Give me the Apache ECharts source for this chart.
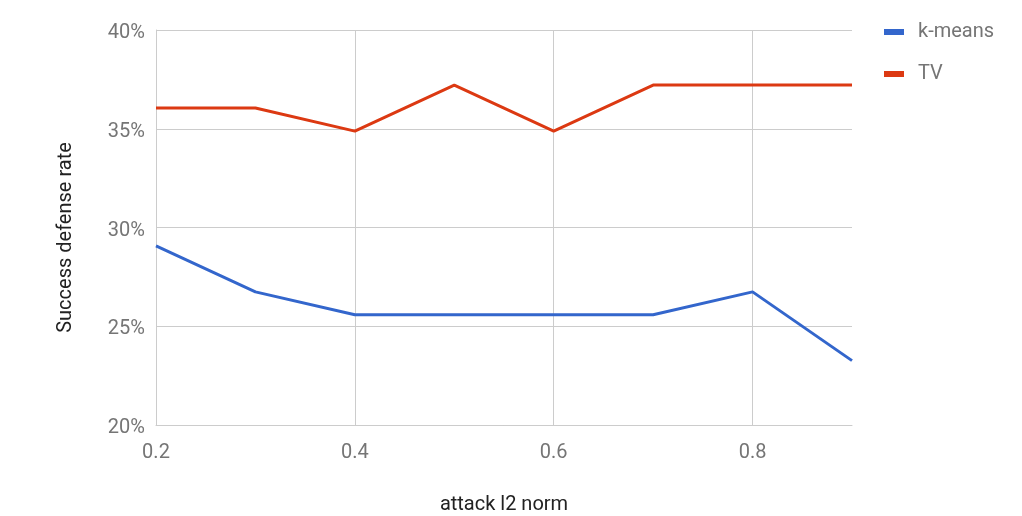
<!DOCTYPE html>
<html>
<head>
<meta charset="utf-8">
<script src="https://cdn.jsdelivr.net/npm/echarts@6/dist/echarts.min.js"></script>
<style>html,body{margin:0;padding:0;background:#fff}#c{width:1022px;height:516px}</style>
</head>
<body>
<div id="c"></div>
<script>
const categories = ['0.2','0.3','0.4','0.5','0.6','0.7','0.8','0.9'];
const kmeans = [29.07, 26.74, 25.58, 25.58, 25.58, 25.58, 26.74, 23.26];
const tv = [36.05, 36.05, 34.88, 37.21, 34.88, 37.21, 37.21, 37.21];
const seriesNames = ['k-means', 'TV'];
const xName = 'attack l2 norm';
const yName = 'Success defense rate';

const chart = echarts.init(document.getElementById('c'));
const font = 'Roboto';
chart.setOption({
  animation: false,
  textStyle: {fontFamily: font},
  color: ['#3366CC', '#DC3912'],
  legend: {
    orient: 'vertical', left: 884, top: 22, padding: 0,
    itemWidth: 20, itemHeight: 6, itemGap: 22,
    icon: 'rect',
    textStyle: {color: '#757575', fontSize: 20, fontFamily: font, padding: [0, 0, 0, 9]},
    data: seriesNames
  },
  grid: {left: 156, right: 170, top: 30, bottom: 91, containLabel: false, outerBoundsMode: 'none'},
  xAxis: {
    type: 'category', data: categories, boundaryGap: false,
    name: xName, nameLocation: 'middle', nameGap: 70,
    nameTextStyle: {color: '#222', fontSize: 20, fontFamily: font},
    axisLine: {show: true, lineStyle: {color: '#ccc'}},
    axisTick: {show: false},
    axisLabel: {interval: 1, color: '#757575', fontSize: 20, margin: 18, fontFamily: font},
    splitLine: {show: true, interval: 1, lineStyle: {color: '#ccc', width: 1}}
  },
  yAxis: {
    type: 'value', min: 20, max: 40, interval: 5,
    name: yName, nameLocation: 'middle', nameGap: 80, nameRotate: 90,
    nameTextStyle: {color: '#222', fontSize: 20, fontFamily: font, padding: [0, 20, 0, 0]},
    axisLine: {show: true, lineStyle: {color: '#ccc'}},
    axisTick: {show: false},
    axisLabel: {formatter: '{value}%', color: '#757575', fontSize: 20, margin: 11, fontFamily: font, verticalAlign: 'top', lineHeight: 6},
    splitLine: {show: true, lineStyle: {color: '#ccc', width: 1}}
  },
  series: [
    {name: seriesNames[0], type: 'line', data: kmeans, showSymbol: false, symbol: 'none', lineStyle: {width: 3}},
    {name: seriesNames[1], type: 'line', data: tv, showSymbol: false, symbol: 'none', lineStyle: {width: 3}}
  ]
});
</script>
</body>
</html>
